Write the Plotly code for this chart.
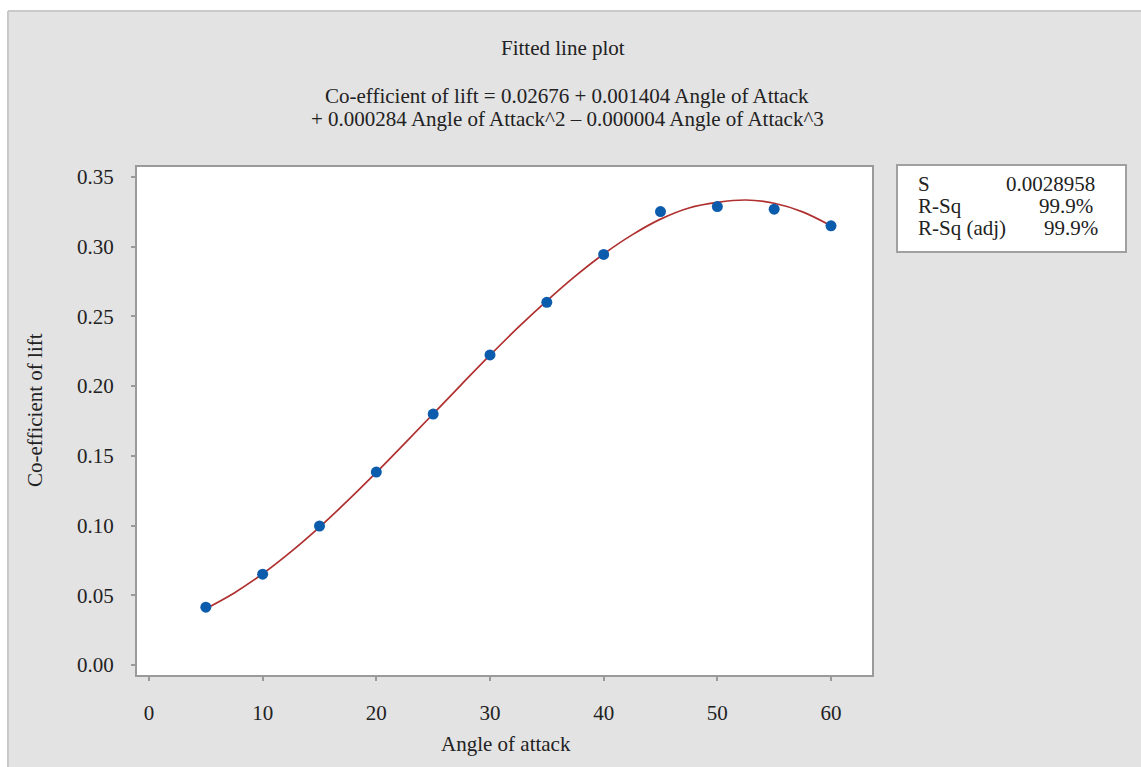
import plotly.graph_objects as go

# ---- data ----
angle = [5, 10, 15, 20, 25, 30, 35, 40, 45, 50, 55, 60]
cl = [0.0415, 0.0651, 0.0997, 0.1384, 0.1800, 0.2224, 0.2601, 0.2945, 0.3252, 0.3288, 0.3269, 0.3150]

fit_x = [5, 7.5, 10, 12.5, 15, 17.5, 20, 22.5, 25, 27.5, 30, 32.5, 35, 37.5, 40,
         42.5, 45, 47.5, 50, 52.5, 55, 57.5, 60]
fit_y = [0.0404, 0.0517, 0.0654, 0.0813, 0.0989, 0.1180, 0.1381, 0.1590, 0.1801,
         0.2013, 0.2222, 0.2423, 0.2612, 0.2789, 0.2948, 0.3085, 0.3198, 0.3278,
         0.3318, 0.3335, 0.3312, 0.3250, 0.3150]

x_ticks = [0, 10, 20, 30, 40, 50, 60]
y_ticks = [0.00, 0.05, 0.10, 0.15, 0.20, 0.25, 0.30, 0.35]
y_tick_labels = ["0.00", "0.05", "0.10", "0.15", "0.20", "0.25", "0.30", "0.35"]

title = "Fitted line plot"
eq1 = "Co-efficient of lift = 0.02676 + 0.001404 Angle of Attack"
eq2 = "+ 0.000284 Angle of Attack^2 \u2013 0.000004 Angle of Attack^3"
stat_names = ["S", "R-Sq", "R-Sq (adj)"]
stat_values = ["0.0028958", "99.9%", "99.9%"]

# ---- layout geometry (pixels) ----
W_FIG, H_FIG = 1141, 767
L, R, T, B = 137, 872, 167, 675
PW, PH = R - L, B - T


def px(x):
    return (x - L) / PW


def py(y):
    return (B - y) / PH


FONT = "Liberation Serif, Times New Roman, serif"
TXT = "#222222"
FS = 21

fig = go.Figure()
fig.add_trace(go.Scatter(x=fit_x, y=fit_y, mode="lines", line=dict(color="#b03030", width=1.7, shape="spline"),
                         showlegend=False, hoverinfo="skip"))
fig.add_trace(go.Scatter(x=angle, y=cl, mode="markers",
                         marker=dict(color="#0b5cad", size=11, symbol="circle"), showlegend=False))

shapes = [
    # white strips outside the grey page
    dict(type="rect", xref="paper", yref="paper", x0=px(-5), x1=px(W_FIG + 5), y0=py(11), y1=py(-5),
         fillcolor="white", line=dict(width=0), layer="above"),
    dict(type="rect", xref="paper", yref="paper", x0=px(-5), x1=px(8), y0=py(W_FIG), y1=py(-5),
         fillcolor="white", line=dict(width=0), layer="above"),
    # page border
    dict(type="line", xref="paper", yref="paper", x0=px(8), x1=px(W_FIG + 5), y0=py(11), y1=py(11),
         line=dict(color="#c9c9c9", width=2)),
    dict(type="line", xref="paper", yref="paper", x0=px(8), x1=px(8), y0=py(11), y1=py(H_FIG + 5),
         line=dict(color="#c9c9c9", width=2)),
    # stats box
    dict(type="rect", xref="paper", yref="paper", x0=px(897), x1=px(1126), y0=py(252), y1=py(165),
         fillcolor="white", line=dict(color="#a0a0a0", width=2)),
]

ann = [
    dict(text=title, x=px(563), y=py(48)),
    dict(text=eq1, x=px(567), y=py(96)),
    dict(text=eq2, x=px(567), y=py(119)),
    dict(text="Angle of attack", x=px(506), y=py(744)),
    dict(text="Co-efficient of lift", x=px(35), y=py(410), textangle=-90),
]
annotations = []
for a in ann:
    d = dict(xref="paper", yref="paper", showarrow=False, xanchor="center", yanchor="middle",
             font=dict(family=FONT, size=FS, color=TXT))
    d.update(a)
    annotations.append(d)

row_y = [184, 206, 228]
val_x = [1097, 1095, 1100]
for name, val, yy, vx in zip(stat_names, stat_values, row_y, val_x):
    annotations.append(dict(text=name, x=px(916), y=py(yy), xref="paper", yref="paper", showarrow=False,
                            xanchor="left", yanchor="middle", font=dict(family=FONT, size=FS, color=TXT)))
    annotations.append(dict(text=val, x=px(vx), y=py(yy), xref="paper", yref="paper", showarrow=False,
                            xanchor="right", yanchor="middle", font=dict(family=FONT, size=FS, color=TXT)))

x_scale = (831 - 149) / 60.0
y_scale = (665 - 177) / 0.35

fig.update_layout(
    width=W_FIG, height=H_FIG,
    margin=dict(l=L, r=W_FIG - R, t=T, b=H_FIG - B, autoexpand=False),
    paper_bgcolor="#e3e3e3", plot_bgcolor="white",
    font=dict(family=FONT, size=FS, color=TXT),
    shapes=shapes, annotations=annotations,
    xaxis=dict(range=[(L - 149) / x_scale, (R - 149) / x_scale], tickvals=x_ticks,
               ticks="outside", ticklen=4, tickwidth=1.5, tickcolor="#9a9a9a",
               showline=True, linecolor="#9a9a9a", linewidth=2, mirror=True,
               showgrid=False, zeroline=False, ticklabelstandoff=14,
               tickfont=dict(family=FONT, size=FS, color=TXT)),
    yaxis=dict(range=[-(B - 665) / y_scale, 0.35 + (177 - T) / y_scale], tickvals=y_ticks,
               ticktext=y_tick_labels,
               ticks="outside", ticklen=4, tickwidth=1.5, tickcolor="#9a9a9a",
               showline=True, linecolor="#9a9a9a", linewidth=2, mirror=True,
               showgrid=False, zeroline=False, ticklabelstandoff=13,
               tickfont=dict(family=FONT, size=FS, color=TXT)),
)

fig.write_html("out.html")
